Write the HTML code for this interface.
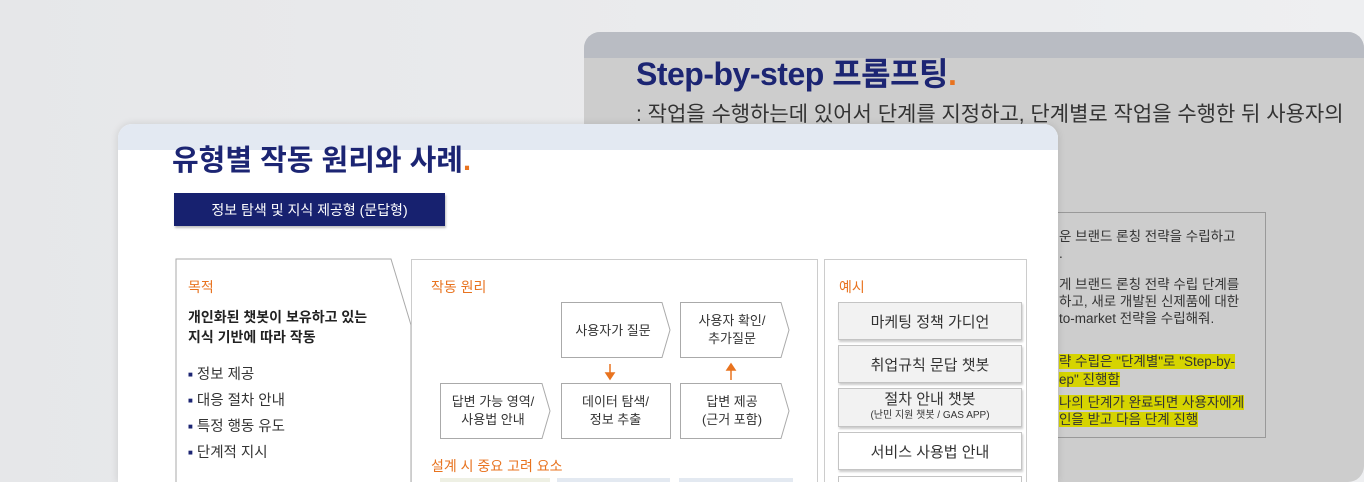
<!DOCTYPE html>
<html style="width:1364px;height:482px;overflow:hidden"><head><meta charset="utf-8"><style>
*{margin:0;padding:0;box-sizing:border-box}
html,body{width:1364px;height:482px;overflow:hidden}
body{background:linear-gradient(90deg,#e6e7e9,#eeeff1);font-family:"Liberation Sans","Noto Sans CJK KR",sans-serif;position:relative}
.a{position:absolute}
.back{left:584px;top:32px;width:780px;height:450px;background:#cdcdcd;border-radius:16px 16px 16px 0;overflow:hidden}
.front{left:118px;top:124px;width:940px;height:358px;background:#fff;border-radius:14px 14px 0 0;overflow:hidden;box-shadow:0 0 8px rgba(0,0,0,.12)}
.ex{position:absolute;left:838px;width:184px;background:#f2f2f2;border:1px solid #c4c4c4;box-shadow:1px 2px 2px rgba(0,0,0,.2);font-size:15px;color:#333;text-align:center;display:flex;flex-direction:column;align-items:center;justify-content:center}
.hl{background:#d6d400}
.b{color:#1c2573;font-size:8px;vertical-align:2px}
.t{position:absolute;left:475px;font-size:13.5px;color:#333;white-space:nowrap;line-height:17px}
</style></head><body>
<div class="a back">
  <div class="a" style="left:0;top:0;width:780px;height:26px;background:#b9bcc3"></div>
  <div class="a" style="left:52px;top:17px;font-size:32px;font-weight:bold;color:#1c2573;letter-spacing:-0.5px;white-space:nowrap">Step-by-step 프롬프팅<span style="color:#e8731f">.</span></div>
  <div class="a" style="left:52px;top:66px;font-size:21px;color:#333;white-space:nowrap">: 작업을 수행하는데 있어서 단계를 지정하고, 단계별로 작업을 수행한 뒤 사용자의</div>
  <div class="a" style="left:420px;top:180px;width:262px;height:226px;border:1px solid #999"></div>
  <div class="t" style="top:196px">운 브랜드 론칭 전략을 수립하고</div>
  <div class="t" style="top:213px">.</div>
  <div class="t" style="top:244px">게 브랜드 론칭 전략 수립 단계를</div>
  <div class="t" style="top:261px">하고, 새로 개발된 신제품에 대한</div>
  <div class="t" style="top:278px">to-market 전략을 수립해줘.</div>
  <div class="t" style="top:321px"><span class="hl">략 수립은 "단계별"로 "Step-by-</span></div>
  <div class="t" style="top:339px"><span class="hl">ep" 진행함</span></div>
  <div class="t" style="top:362px"><span class="hl">나의 단계가 완료되면 사용자에게</span></div>
  <div class="t" style="top:379px"><span class="hl">인을 받고 다음 단계 진행</span></div>
</div>
<div class="a front">
  <div class="a" style="left:0;top:0;width:940px;height:26px;background:#e3e9f2"></div>
</div>
<div class="a" style="left:172px;top:137px;font-size:29px;font-weight:bold;color:#1c2573;white-space:nowrap">유형별 작동 원리와 사례<span style="color:#e8731f">.</span></div>
<div class="a" style="left:174px;top:193px;width:271px;height:33px;background:#17216f;color:#fff;font-size:14px;display:flex;align-items:center;justify-content:center;box-shadow:1px 2px 2px rgba(0,0,0,.25)">정보 탐색 및 지식 제공형 (문답형)</div>
<svg class="a" style="left:0;top:0" width="1364" height="482">
  <polyline points="176,482 176,259 391,259 411,325 411,482" fill="#fff" stroke="#aaa" stroke-width="1"/>
  <rect x="411.5" y="259.5" width="406" height="230" fill="#fff" stroke="#ccc"/>
  <rect x="824.5" y="259.5" width="202" height="230" fill="#fff" stroke="#ccc"/>
  <g fill="#fff" stroke="#aaa" stroke-width="1">
    <polygon points="561.5,302.5 662,302.5 670,330 662,357.5 561.5,357.5"/>
    <polygon points="680.5,302.5 781,302.5 789,330 781,357.5 680.5,357.5"/>
    <polygon points="440.5,383.5 542,383.5 550,411 542,438.5 440.5,438.5"/>
    <rect x="561.5" y="383.5" width="109" height="55"/>
    <polygon points="680.5,383.5 781,383.5 789,411 781,438.5 680.5,438.5"/>
  </g>
  <g stroke="#e8731f" stroke-width="1.5" fill="#e8731f">
    <line x1="610" y1="364" x2="610" y2="374"/><polygon points="606,373 614,373 610,379"/>
    <line x1="731" y1="369" x2="731" y2="380"/><polygon points="727,370 735,370 731,364"/>
  </g>
  <rect x="440" y="478" width="110" height="4" fill="#eef0e4"/>
  <rect x="557" y="478" width="113" height="4" fill="#e3e9f1"/>
  <rect x="679" y="478" width="114" height="4" fill="#e3e9f1"/>
</svg>
<div class="a" style="left:188px;top:277px;font-size:14px;color:#e8731f">목적</div>
<div class="a" style="left:188px;top:307px;font-size:14px;font-weight:bold;color:#222;line-height:20px">개인화된 챗봇이 보유하고 있는<br>지식 기반에 따라 작동</div>
<div class="a" style="left:188px;top:362px;font-size:14.5px;color:#333;line-height:25px"><span class="b">■</span> 정보 제공<br><span class="b">■</span> 대응 절차 안내<br><span class="b">■</span> 특정 행동 유도<br><span class="b">■</span> 단계적 지시</div>
<div class="a" style="left:431px;top:277px;font-size:14px;color:#e8731f">작동 원리</div>
<div class="a" style="left:561px;top:320px;width:104px;text-align:center;font-size:13px;color:#333">사용자가 질문</div>
<div class="a" style="left:680px;top:312px;width:104px;text-align:center;font-size:13px;color:#333;line-height:18px">사용자 확인/<br>추가질문</div>
<div class="a" style="left:440px;top:393px;width:106px;text-align:center;font-size:13px;color:#333;line-height:18px">답변 가능 영역/<br>사용법 안내</div>
<div class="a" style="left:561px;top:393px;width:109px;text-align:center;font-size:13px;color:#333;line-height:18px">데이터 탐색/<br>정보 추출</div>
<div class="a" style="left:680px;top:393px;width:104px;text-align:center;font-size:13px;color:#333;line-height:18px">답변 제공<br>(근거 포함)</div>
<div class="a" style="left:431px;top:456px;font-size:14px;color:#e8731f">설계 시 중요 고려 요소</div>
<div class="a" style="left:839px;top:277px;font-size:14px;color:#e8731f">예시</div>
<div class="ex" style="top:302px;height:38px">마케팅 정책 가디언</div>
<div class="ex" style="top:345px;height:38px">취업규칙 문답 챗봇</div>
<div class="ex" style="top:388px;height:39px;line-height:16px">절차 안내 챗봇<span style="font-size:10px">(난민 지원 챗봇 / GAS APP)</span></div>
<div class="ex" style="top:432px;height:38px;background:#fff">서비스 사용법 안내</div>
<div class="ex" style="top:476px;height:6px;background:#fff;box-shadow:none;border-bottom:none"></div>
</body></html>
